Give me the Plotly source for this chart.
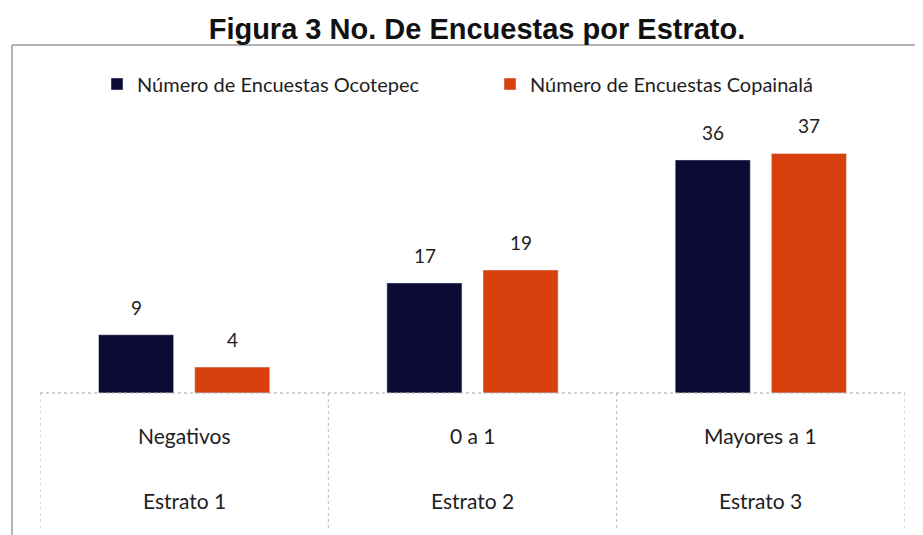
import plotly.graph_objects as go

categories = ["Negativos", "0 a 1", "Mayores a 1"]
strata = ["Estrato 1", "Estrato 2", "Estrato 3"]
ocotepec = [9, 17, 36]
copainala = [4, 19, 37]
series_names = ["Número de Encuestas Ocotepec", "Número de Encuestas Copainalá"]
colors = ["#0b0b33", "#d8410e"]

W, H = 923, 535
OFF = 8  # page body margin
# plot area in screen pixels
SX0, SX1, SY_TOP, SY_BASE = 40, 905, 134, 393
L = SX0 - OFF
R = W - (SX1 - OFF)
T = SY_TOP - OFF
B = H - (SY_BASE - OFF)
pw, ph = SX1 - SX0, SY_BASE - SY_TOP

def px_x(p):
    return (p - SX0) / pw

def px_y(p):
    return (SY_BASE - p) / ph

fig = go.Figure()
for k, (name, vals, col) in enumerate(zip(series_names, [ocotepec, copainala], colors)):
    fig.add_trace(go.Bar(
        x=categories, y=vals, name=name, marker_color=col,
        legend="legend" if k == 0 else "legend2",
    ))

shapes = []
shapes.append(dict(type="line", xref="paper", yref="paper",
                   x0=px_x(12), x1=px_x(940), y0=px_y(45), y1=px_y(45),
                   line=dict(color="#9a9a9a", width=1.5)))
shapes.append(dict(type="line", xref="paper", yref="paper",
                   x0=px_x(12), x1=px_x(12), y0=px_y(45), y1=px_y(545),
                   line=dict(color="#9a9a9a", width=1.5)))
shapes.append(dict(type="line", xref="paper", yref="paper",
                   x0=0, x1=1, y0=0, y1=0,
                   line=dict(color="#a8a8a8", width=1.2, dash="dot")))
for i in range(len(categories) + 1):
    shapes.append(dict(type="line", xref="x", yref="paper",
                       x0=i - 0.5, x1=i - 0.5, y0=0, y1=px_y(530),
                       line=dict(color="#b8b8b8", width=1, dash="dot")))

txt_font = dict(family="Lato", size=21, color="#1e1e1e")
annotations = []
for i, (c, s) in enumerate(zip(categories, strata)):
    annotations.append(dict(x=i, xref="x", y=px_y(435), yref="paper",
                            yanchor="middle", xanchor="center",
                            text=c, showarrow=False, font=txt_font))
    annotations.append(dict(x=i, xref="x", y=px_y(500), yref="paper",
                            yanchor="middle", xanchor="center",
                            text=s, showarrow=False, font=txt_font))

# value labels above bars
half_slot = 48
for k, vals in enumerate([ocotepec, copainala]):
    shift = -half_slot if k == 0 else half_slot
    for c, v in zip(categories, vals):
        annotations.append(dict(x=c, xref="x", y=v, yref="y",
                                yanchor="bottom", xanchor="center",
                                xshift=shift, yshift=14,
                                text=str(v), showarrow=False,
                                font=dict(family="Lato", size=19, color="#1e1e1e")))

leg_font = dict(family="Lato", size=20, color="#1e1e1e")
fig.update_layout(
    width=W, height=H,
    margin=dict(l=L, r=R, t=T, b=B),
    paper_bgcolor="white", plot_bgcolor="white",
    title=dict(text="<b>Figura 3 No. De Encuestas por Estrato.</b>",
               x=(469) / W, xanchor="center",
               y=1 - (29 - OFF) / H, yanchor="middle",
               font=dict(family="Liberation Sans", size=29, color="#111111")),
    barmode="group", bargap=0.333, bargroupgap=0.219,
    xaxis=dict(range=[-0.5, 2.5], showticklabels=False, showgrid=False,
               zeroline=False, showline=False, ticks=""),
    yaxis=dict(range=[0, 40], visible=False, showgrid=False, zeroline=False),
    showlegend=True,
    legend=dict(x=px_x(97), xanchor="left", y=px_y(84), yanchor="middle",
                font=leg_font, bgcolor="rgba(0,0,0,0)"),
    legend2=dict(x=px_x(490), xanchor="left", y=px_y(84), yanchor="middle",
                 font=leg_font, bgcolor="rgba(0,0,0,0)"),
    shapes=shapes, annotations=annotations,
)

fig.write_html("out.html")
